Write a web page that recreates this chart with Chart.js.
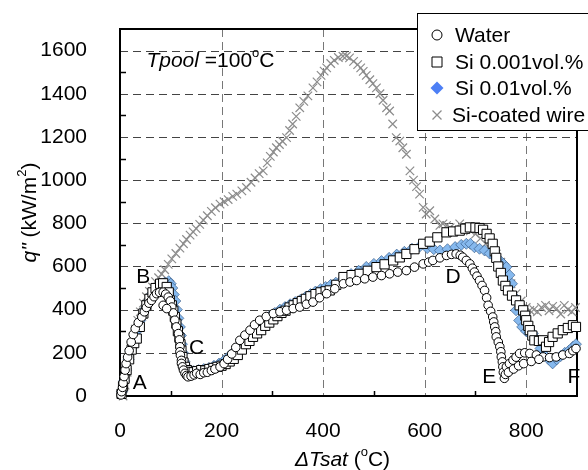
<!DOCTYPE html>
<html>
<head>
<meta charset="utf-8">
<script src="https://cdn.jsdelivr.net/npm/chart.js@4.4.0/dist/chart.umd.min.js"></script>
<style>
  body { margin: 0; background: #fff; }
</style>
</head>
<body>
<canvas id="chart" width="588" height="470"></canvas>
<script>
const seriesNames = ["Water", "Si 0.001vol.%", "Si 0.01vol.%", "Si-coated wire"];

const waterX = [2,3,5,6,8,10,12,15,18,22,
  26,30,36,43,48,52,57,62,67,72,
  78,85,90,95,99,102,105,108,111,115,
  117,118,118,119,121,121,123,125,128,131,
  134,140,146,151,158,165,172,180,187,197,
  205,212,220,228,236,246,256,265,275,288,
  302,315,328,341,354,367,380,393,407,423,
  440,453,466,482,498,515,531,547,564,580,
  597,608,616,630,643,653,662,670,675,682,
  689,694,698,703,708,713,718,722,725,730,
  734,736,738,740,741,745,748,750,751,753,
  754,755,757,759,761,767,774,780,787,797,
  807,820,833,846,859,872,885,892,898,
  85,92,765,775,785,795,810,825];
const waterY = [5,20,40,60,90,120,150,180,210,250,
  285,312,340,366,390,410,430,443,460,474,
  480,481,472,458,440,412,385,351,320,289,
  260,228,205,189,165,151,135,120,105,95,
  89,92,98,105,100,108,110,118,125,135,
  150,170,195,225,258,282,305,330,351,368,
  382,390,397,405,412,425,435,455,474,497,
  520,528,535,543,551,558,566,574,581,597,
  612,620,628,640,651,656,658,652,643,628,
  612,592,574,555,535,512,489,455,420,392,
  366,343,320,298,274,250,228,205,181,158,
  135,110,82,100,135,150,166,180,197,200,
  197,190,181,178,181,190,197,210,220,
  420,405,110,125,140,150,160,170];

const si001X = [3,6,9,13,18,23,28,33,39,46,
  52,58,64,70,79,85,92,96,98,102,
  105,108,111,114,117,119,121,123,125,128,
  132,138,145,152,160,168,176,184,192,200,
  208,216,224,232,240,248,255,262,270,278,
  286,294,302,310,318,326,334,342,350,358,
  366,375,385,395,405,413,426,440,456,472,
  488,505,521,538,551,564,580,597,610,625,
  643,656,669,680,689,700,708,715,722,728,
  734,738,741,745,750,754,759,764,772,780,
  787,794,798,800,804,807,812,816,825,833,
  839,845,852,862,872,882,892,898];
const si001Y = [10,45,80,120,170,215,245,266,320,382,
  420,450,480,500,520,522,505,480,443,420,
  395,366,335,300,270,240,210,180,155,135,
  120,112,110,115,120,118,125,130,135,140,
  148,160,172,190,215,240,255,274,290,305,
  325,340,355,370,385,395,410,420,430,440,
  450,462,472,480,485,489,515,551,560,566,
  580,597,610,628,642,658,680,705,715,735,
  758,762,766,775,781,780,778,770,751,730,
  705,670,640,600,570,535,510,489,465,443,
  420,397,372,351,325,305,280,258,255,258,
  228,250,274,290,305,315,328,320];

const si01X = [4,8,12,17,22,27,33,40,48,56,
  64,72,80,88,96,100,103,106,109,112,
  115,118,120,122,124,127,131,137,145,155,
  165,175,185,195,205,215,225,235,245,255,
  265,275,285,295,305,315,325,335,345,355,
  365,375,385,395,405,415,425,440,455,470,
  485,500,515,530,545,560,575,590,605,618,
  630,645,660,672,682,690,698,708,718,728,
  738,748,755,761,767,772,776,780,786,792,
  800,806,813,820,828,836,844,852,860,868,
  876,884,892,898];
const si01Y = [20,70,120,170,220,260,300,350,400,440,
  475,500,515,525,532,520,500,470,440,400,
  360,320,280,240,200,160,135,120,115,120,
  125,130,140,150,165,185,205,230,255,280,
  305,330,350,370,385,400,412,425,435,445,
  458,472,484,495,505,515,525,545,565,580,
  598,612,625,640,655,668,682,692,685,680,
  674,680,690,700,705,705,689,682,674,660,
  645,628,612,597,560,520,460,397,350,320,
  300,290,289,260,220,190,170,151,170,185,
  200,210,228,240];

const wireX = [6,10,14,18,22,26,30,35,40,46,
  52,58,64,70,76,82,88,95,102,110,
  118,125,131,138,144,150,157,164,172,180,
  188,197,205,213,222,230,240,249,258,266,
  274,282,290,296,302,308,314,320,328,334,
  340,347,354,362,370,380,388,396,402,407,
  415,422,430,439,446,452,460,468,474,479,
  485,492,498,505,512,518,525,531,537,544,
  551,557,564,571,578,584,590,597,603,610,
  620,630,636,643,650,660,669,680,690,700,
  710,720,730,741,750,760,770,780,790,800,
  807,815,822,830,838,845,852,860,868,875,
  882,890,897];
const wireY = [0,50,110,170,220,270,310,350,390,430,
  460,485,505,530,548,565,585,610,635,660,
  685,705,725,745,760,775,795,815,835,855,
  872,889,900,910,925,935,950,966,990,1010,
  1030,1043,1080,1110,1130,1150,1165,1180,1197,1230,
  1260,1295,1335,1365,1390,1427,1455,1485,1505,1520,
  1540,1555,1568,1574,1575,1566,1550,1535,1520,1504,
  1485,1465,1447,1427,1400,1370,1335,1320,1260,1197,
  1181,1150,1120,1043,1000,970,935,874,843,858,
  820,790,797,789,780,770,797,780,765,750,
  730,705,680,658,620,570,520,474,440,410,
  397,400,390,410,420,395,415,405,380,420,
  400,390,410];

const xMinorTicks = [100, 300, 500, 700];
const yMinorTicks = [100, 300, 500, 700, 900, 1100, 1300, 1500];

// regime labels on the boiling curve, in data units
const pointLabels = ["A", "B", "C", "D", "E", "F"];
const pointLabelX = [39, 46, 151, 656, 727, 894];
const pointLabelY = [59, 552, 220, 552, 89, 89];

const FONT = "'Liberation Sans', Arial, sans-serif";

function pts(xs, ys) {
  return xs.map((x, i) => ({ x: x, y: ys[i] }));
}

function runFont(r) {
  return (r.italic ? "italic " : "") + (r.sup ? 13 : 21) + "px " + FONT;
}

// draw text made of runs (italic / superscript parts)
function drawRuns(ctx, runs, x, y, align) {
  let total = 0;
  runs.forEach(r => { ctx.font = runFont(r); total += ctx.measureText(r.t).width; });
  let cx = align === "center" ? x - total / 2 : x;
  ctx.textAlign = "left";
  ctx.textBaseline = "middle";
  runs.forEach(r => {
    ctx.font = runFont(r);
    ctx.fillText(r.t, cx, r.sup ? y - 8 : y);
    cx += ctx.measureText(r.t).width;
  });
}

function marker(ctx, style, x, y) {
  ctx.save();
  ctx.lineWidth = 1;
  ctx.beginPath();
  if (style === "circle") {
    ctx.arc(x, y, 5, 0, Math.PI * 2);
    ctx.fillStyle = "#fff"; ctx.strokeStyle = "#000";
    ctx.fill(); ctx.stroke();
  } else if (style === "rect") {
    ctx.rect(x - 5, y - 5, 10, 10);
    ctx.fillStyle = "#fff"; ctx.strokeStyle = "#000";
    ctx.fill(); ctx.stroke();
  } else if (style === "rectRot") {
    ctx.moveTo(x - 6.5, y); ctx.lineTo(x, y - 6.5); ctx.lineTo(x + 6.5, y); ctx.lineTo(x, y + 6.5);
    ctx.closePath();
    ctx.fillStyle = "#4d7ff5";
    ctx.fill();
  } else {
    ctx.moveTo(x - 4.5, y - 4.5); ctx.lineTo(x + 4.5, y + 4.5);
    ctx.moveTo(x + 4.5, y - 4.5); ctx.lineTo(x - 4.5, y + 4.5);
    ctx.strokeStyle = "#8c8c8c"; ctx.lineWidth = 1.3;
    ctx.stroke();
  }
  ctx.restore();
}

const decorations = {
  id: "decorations",
  beforeDatasetsDraw(chart) {
    const ctx = chart.ctx;
    const a = chart.chartArea;
    const xs = chart.scales.x, ys = chart.scales.y;
    ctx.save();
    // dashed grid at the labelled ticks
    ctx.lineWidth = 1;
    ctx.setLineDash([8, 5]);
    ctx.strokeStyle = "#777";
    ctx.beginPath();
    xs.ticks.forEach(t => {
      if (t.value === 0) return;
      const px = Math.round(xs.getPixelForValue(t.value)) + 0.5;
      ctx.moveTo(px, a.top); ctx.lineTo(px, a.bottom);
    });
    ctx.stroke();
    ctx.strokeStyle = "#444";
    ctx.beginPath();
    ys.ticks.forEach(t => {
      if (t.value === 0) return;
      const py = Math.round(ys.getPixelForValue(t.value)) + 0.5;
      ctx.moveTo(a.left, py); ctx.lineTo(a.right, py);
    });
    ctx.stroke();
    ctx.setLineDash([]);

    ctx.strokeStyle = "#000";
    ctx.lineWidth = 2;
    ctx.strokeRect(a.left, a.top, a.right - a.left, a.bottom - a.top);
    ctx.lineWidth = 1.5;
    ctx.beginPath();
    xMinorTicks.forEach(v => {
      const px = Math.round(xs.getPixelForValue(v)) + 0.5;
      ctx.moveTo(px, a.bottom); ctx.lineTo(px, a.bottom - 5);
    });
    yMinorTicks.forEach(v => {
      const py = Math.round(ys.getPixelForValue(v)) + 0.5;
      ctx.moveTo(a.left, py); ctx.lineTo(a.left + 6, py);
    });
    ctx.stroke();
    ctx.restore();
  },
  afterDraw(chart) {
    const ctx = chart.ctx;
    const a = chart.chartArea;
    const xs = chart.scales.x, ys = chart.scales.y;
    ctx.save();
    ctx.fillStyle = "#000";

    pointLabels.forEach((t, i) => {
      ctx.font = "21px " + FONT;
      ctx.textAlign = "center";
      ctx.textBaseline = "middle";
      ctx.fillText(t, xs.getPixelForValue(pointLabelX[i]), ys.getPixelForValue(pointLabelY[i]));
    });

    drawRuns(ctx, [{ t: "Tpool", italic: true }, { t: " =100" }, { t: "o", sup: true }, { t: "C" }],
      xs.getPixelForValue(52), ys.getPixelForValue(1551), "left");

    // axis titles
    drawRuns(ctx, [{ t: "\u0394", italic: true }, { t: "Tsat", italic: true }, { t: " (" }, { t: "o", sup: true }, { t: "C)" }],
      (a.left + a.right) / 2 - 6, 460, "center");
    ctx.save();
    ctx.translate(30, (a.top + a.bottom) / 2);
    ctx.rotate(-Math.PI / 2);
    drawRuns(ctx, [{ t: "q\"", italic: true }, { t: " (kW/m" }, { t: "2", sup: true }, { t: ")" }], 0, 0, "center");
    ctx.restore();

    // legend box
    ctx.fillStyle = "#fff";
    ctx.fillRect(417, 13, 200, 117);
    ctx.strokeStyle = "#000";
    ctx.lineWidth = 1;
    ctx.strokeRect(417.5, 13.5, 200, 117);
    const styles = ["circle", "rect", "rectRot", "crossRot"];
    const rows = [35, 62, 88, 115];
    seriesNames.forEach((name, i) => {
      marker(ctx, styles[i], 437, rows[i]);
      ctx.fillStyle = "#000";
      ctx.font = "21px " + FONT;
      ctx.textAlign = "left";
      ctx.textBaseline = "middle";
      ctx.fillText(name, i === 3 ? 452 : 455, rows[i] + 1);
    });
    ctx.restore();
  }
};

new Chart(document.getElementById("chart"), {
  type: "scatter",
  data: {
    datasets: [
      { label: seriesNames[0], data: pts(waterX, waterY), pointStyle: "circle", pointRadius: 4.3,
        backgroundColor: "#fff", borderColor: "#000", borderWidth: 1, clip: 12 },
      { label: seriesNames[1], data: pts(si001X, si001Y), pointStyle: "rect", pointRadius: 6.5,
        backgroundColor: "#fff", borderColor: "#000", borderWidth: 1, clip: 12 },
      { label: seriesNames[2], data: pts(si01X, si01Y), pointStyle: "rectRot", pointRadius: 5.5,
        backgroundColor: "#86b9ee", borderColor: "#2c4f7a", borderWidth: 0.6, clip: 12 },
      { label: seriesNames[3], data: pts(wireX, wireY), pointStyle: "crossRot", pointRadius: 6,
        backgroundColor: "#8c8c8c", borderColor: "#8c8c8c", borderWidth: 1.2, clip: 12 }
    ]
  },
  options: {
    responsive: false,
    animation: false,
    layout: { padding: { left: 0, top: 29, right: 11, bottom: 0 } },
    plugins: {
      legend: { display: false },
      tooltip: { enabled: false }
    },
    scales: {
      x: {
        type: "linear",
        min: 0,
        max: 900,
        afterFit: (scale) => { scale.height = 74; scale.paddingLeft = 0; scale.paddingRight = 0; },
        ticks: { stepSize: 200, includeBounds: false, padding: 15, color: "#000",
          font: { family: FONT, size: 21 }, callback: (v) => String(v) },
        grid: { display: false },
        border: { display: false }
      },
      y: {
        type: "linear",
        min: 0,
        max: 1700,
        afterFit: (scale) => { scale.width = 120; scale.paddingTop = 0; scale.paddingBottom = 0; },
        ticks: { stepSize: 200, includeBounds: false, padding: 25, color: "#000",
          font: { family: FONT, size: 21 }, callback: (v) => String(v) },
        grid: { display: false },
        border: { display: false }
      }
    }
  },
  plugins: [decorations]
});
</script>
</body>
</html>
